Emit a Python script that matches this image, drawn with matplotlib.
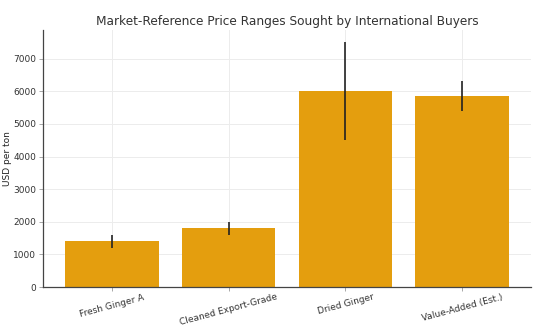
import numpy as np
import matplotlib
matplotlib.use('Agg')
import matplotlib.pyplot as plt

# Данні з графіка
categories = ['Fresh Ginger A', 'Cleaned Export-Grade', 'Dried Ginger', 'Value-Added (Est.)']
mid_prices = [1400, 1800, 6000, 5850]
low_prices = [1200, 1600, 4500, 5400]
high_prices = [1600, 2000, 7500, 6300]

err_low = np.array(mid_prices) - np.array(low_prices)
err_high = np.array(high_prices) - np.array(mid_prices)

fig = plt.figure(figsize=(5.53, 3.27), dpi=100)
ax = fig.add_axes([0.078, 0.122, 0.882, 0.786])

x = np.arange(len(categories))
ax.bar(x, mid_prices, width=0.8, color='#E49E0E',
       yerr=[err_low, err_high], error_kw={'ecolor': '#222222', 'elinewidth': 1.2, 'capsize': 0})

ax.set_xticks(x)
ax.set_xticklabels(categories, rotation=15, fontsize=6.5, color='#333333')
ax.tick_params(axis='y', labelsize=6.5, colors='#333333', pad=2)
ax.tick_params(axis='x', pad=1)
ax.tick_params(axis='both', length=3, color='#999999', width=0.6)
ax.set_ylabel('USD per ton', fontsize=6.5, color='#222222')
ax.yaxis.set_label_coords(-0.064, 0.5)
ax.set_title('Market-Reference Price Ranges Sought by International Buyers',
             fontsize=8.7, color='#333333', pad=4)

ax.grid(True, color='#ececec', linewidth=0.7)
ax.set_axisbelow(True)
for side in ['top', 'right']:
    ax.spines[side].set_visible(False)
for side in ['left', 'bottom']:
    ax.spines[side].set_color('#444444')
    ax.spines[side].set_linewidth(0.9)

plt.savefig('out.png', dpi=100)
plt.close()
